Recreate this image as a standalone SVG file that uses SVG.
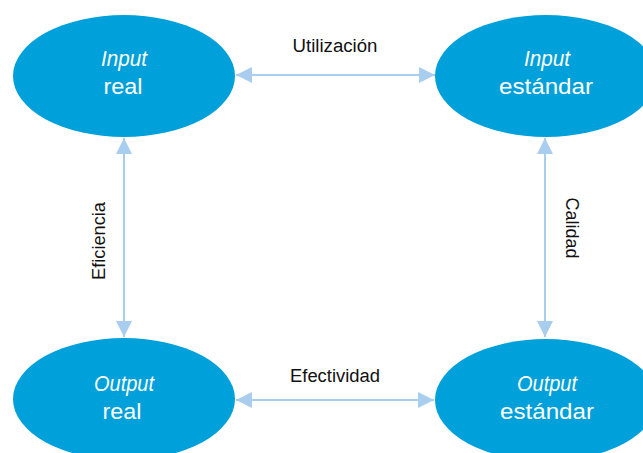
<svg xmlns="http://www.w3.org/2000/svg" width="643" height="453" viewBox="0 0 643 453">
<style>
.node{fill:#00a0da}
.t{font-family:"Liberation Sans",Arial,sans-serif;font-size:22px;fill:#fff;text-anchor:middle}
.i{font-style:italic}
.lab{font-family:"Liberation Sans",Arial,sans-serif;font-size:18px;fill:#111;text-anchor:middle}
.c{stroke:#a9cdee;stroke-width:2;fill:none;marker-start:url(#ah);marker-end:url(#ah)}
</style>
<defs>
<marker id="ah" viewBox="0 0 10 10" refX="10" refY="5" markerWidth="16" markerHeight="16" markerUnits="userSpaceOnUse" orient="auto-start-reverse">
<path d="M0,0 L10,5 L0,10 z" fill="#a9cdee"/>
</marker>
</defs>
<g id="input-real">
<ellipse class="node" cx="124" cy="76" rx="111" ry="61"/>
<text class="t i" x="124" y="66" textLength="46" lengthAdjust="spacingAndGlyphs">Input</text>
<text class="t" x="123" y="94" textLength="39" lengthAdjust="spacingAndGlyphs">real</text>
</g>
<g id="input-estandar">
<ellipse class="node" cx="546" cy="76" rx="111" ry="61"/>
<text class="t i" x="547" y="66" textLength="46" lengthAdjust="spacingAndGlyphs">Input</text>
<text class="t" x="546" y="94" textLength="94" lengthAdjust="spacingAndGlyphs">estándar</text>
</g>
<g id="output-real">
<ellipse class="node" cx="124" cy="399" rx="111" ry="61"/>
<text class="t i" x="124" y="391" textLength="60" lengthAdjust="spacingAndGlyphs">Output</text>
<text class="t" x="122" y="419" textLength="39" lengthAdjust="spacingAndGlyphs">real</text>
</g>
<g id="output-estandar">
<ellipse class="node" cx="546" cy="400" rx="111" ry="61"/>
<text class="t i" x="547" y="391" textLength="60" lengthAdjust="spacingAndGlyphs">Output</text>
<text class="t" x="547" y="419" textLength="94" lengthAdjust="spacingAndGlyphs">estándar</text>
</g>
<g id="connectors">
<line class="c" x1="236" y1="75" x2="435" y2="75"/>
<line class="c" x1="236" y1="400" x2="434" y2="400"/>
<line class="c" x1="124" y1="138" x2="124" y2="337"/>
<line class="c" x1="545" y1="138" x2="545" y2="337"/>
<text class="lab" x="335" y="52" textLength="85" lengthAdjust="spacingAndGlyphs">Utilización</text>
<text class="lab" x="335" y="382" textLength="90" lengthAdjust="spacingAndGlyphs">Efectividad</text>
<text class="lab" transform="translate(105,241) rotate(-90)" textLength="78" lengthAdjust="spacingAndGlyphs">Eficiencia</text>
<text class="lab" transform="translate(566,228) rotate(90)" textLength="61" lengthAdjust="spacingAndGlyphs">Calidad</text>
</g>
</svg>
